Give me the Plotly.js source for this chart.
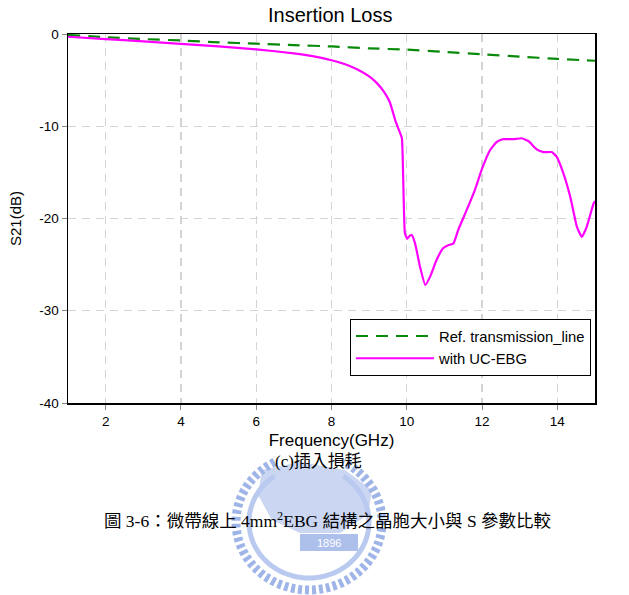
<!DOCTYPE html>
<html>
<head>
<meta charset="utf-8">
<script src="https://cdn.plot.ly/plotly-3.0.1.min.js"></script>
<style>html,body{margin:0;padding:0;background:#fff;}#chart{width:629px;height:595px;}</style>
</head>
<body>
<div id="chart"></div>
<script>
// Reference transmission line (green dashed)
const refFreq = [1, 2, 3, 4, 5, 6, 7, 8, 9, 10, 11, 12, 13, 14, 15];
const refS21 = [-0.1, -0.35, -0.55, -0.7, -0.9, -1.05, -1.2, -1.35, -1.55, -1.7, -1.95, -2.2, -2.45, -2.7, -2.9];

// With UC-EBG (magenta)
const ebgFreq = [1, 2, 3, 4, 5, 6, 7, 7.5, 8, 8.5, 8.8, 9.0, 9.2, 9.4, 9.55, 9.69, 9.8, 9.87, 9.91, 9.95, 10.01, 10.07, 10.13, 10.22, 10.35, 10.49, 10.62, 10.79, 10.97, 11.1, 11.24, 11.37, 11.59, 11.81, 11.99, 12.21, 12.39, 12.56, 12.83, 13.05, 13.23, 13.45, 13.63, 13.85, 13.98, 14.16, 14.34, 14.52, 14.65, 14.78, 14.96, 15];
const ebgS21 = [-0.3, -0.55, -0.8, -1.08, -1.35, -1.66, -2.1, -2.4, -2.85, -3.5, -4.1, -4.6, -5.3, -6.3, -7.4, -9.3, -10.5, -11.3, -16.6, -21.6, -22.2, -21.9, -21.8, -22.7, -25.2, -27.2, -26.3, -24.5, -23.2, -22.9, -22.7, -21.2, -19.1, -16.9, -14.7, -12.6, -11.7, -11.4, -11.4, -11.3, -11.6, -12.5, -12.8, -12.8, -13.3, -15.1, -17.6, -20.9, -22.0, -20.9, -18.4, -18.1];

const xTicks = [2, 4, 6, 8, 10, 12, 14];
const xTickText = ['2', '4', '6', '8', '10', '12', '14'];
const yTicks = [0, -10, -20, -30, -40];
const yTickText = ['0', '-10', '-20', '-30', '-40'];

const traces = [
  {x: refFreq, y: refS21, mode: 'lines', name: 'Ref. transmission_line',
   line: {color: '#0a8a0a', width: 2.2, dash: '12px,8px', shape: 'spline', smoothing: 0.5}},
  {x: ebgFreq, y: ebgS21, mode: 'lines', name: 'with UC-EBG',
   line: {color: '#ff00ff', width: 2.2, shape: 'spline', smoothing: 0.4}}
];

const F = 'Arial, Liberation Sans, sans-serif';
const axisFont = {family: F, size: 13.5, color: '#000'};
const W = 527, H = 369, L = 68, B = 403;
function px(x) { return (x - L) / W; }
function py(y) { return (B - y) / H; }

// decorative watermark seal (page background, not data)
function arcPath(cx, cy, rx, ry, a0, a1, n) {
  let d = '';
  for (let i = 0; i <= n; i++) {
    const a = (a0 + (a1 - a0) * i / n) * Math.PI / 180;
    const x = px(cx + rx * Math.cos(a));
    const y = py(cy - ry * Math.sin(a));
    d += (i === 0 ? 'M' : 'L') + x.toFixed(5) + ',' + y.toFixed(5);
  }
  return d;
}
function polyPath(pts) {
  return pts.map((p, i) => (i === 0 ? 'M' : 'L') + px(p[0]).toFixed(5) + ',' + py(p[1]).toFixed(5)).join('') + 'Z';
}

const layout = {
  width: 629, height: 595,
  margin: {l: 68, r: 34, t: 34, b: 192},
  paper_bgcolor: '#fff', plot_bgcolor: 'rgba(0,0,0,0)',
  font: axisFont,
  title: {text: 'Insertion Loss', font: {family: F, size: 20, color: '#000'},
          x: 0.525, xanchor: 'center', y: 0.974, yanchor: 'middle', yref: 'container'},
  xaxis: {range: [1, 15], tickvals: xTicks, ticktext: xTickText, ticks: 'outside', ticklen: 5, tickcolor: '#888',
          showline: true, linecolor: '#000', linewidth: 1.5, mirror: true,
          showgrid: true, gridcolor: '#d4d4d4', gridwidth: 1.3, griddash: '8px,6px',
          zeroline: false, tickfont: axisFont,
          title: {text: 'Frequency(GHz)', font: {family: F, size: 17, color: '#000'}, standoff: 6}},
  yaxis: {range: [-40, 0], tickvals: yTicks, ticktext: yTickText, ticks: 'outside', ticklen: 5, tickcolor: '#888',
          showline: true, linecolor: '#000', linewidth: 1.5, mirror: true,
          showgrid: true, gridcolor: '#d4d4d4', gridwidth: 1.3, griddash: '8px,6px',
          zeroline: false, tickfont: axisFont,
          title: {text: 'S21(dB)', font: {family: F, size: 15, color: '#000'}, standoff: 14}},
  legend: {x: 0.535, xanchor: 'left', y: 0.228, yanchor: 'top',
           bordercolor: '#000', borderwidth: 1, bgcolor: '#fff',
           font: {family: F, size: 14.8, color: '#000'},
           itemwidth: 78, tracegroupgap: 0},
  showlegend: true,
  shapes: [
    {type: 'path', xref: 'paper', yref: 'paper', layer: 'below',
     path: polyPath([[262, 470], [300, 462], [345, 470], [372, 490], [368, 515], [340, 533], [300, 533], [272, 520], [258, 495]]),
     line: {width: 0}, fillcolor: 'rgba(160,182,232,0.55)'},
    {type: 'path', xref: 'paper', yref: 'paper', layer: 'below',
     path: arcPath(309, 522, 73, 68, 118, 422, 80),
     line: {color: '#9fb5e8', width: 9, dash: '4px,3px'}},
    {type: 'path', xref: 'paper', yref: 'paper', layer: 'below',
     path: arcPath(309, 522, 60, 56, 125, 415, 80),
     line: {color: '#b9c9ef', width: 5}},
    {type: 'rect', xref: 'paper', yref: 'paper', layer: 'below',
     x0: px(300), x1: px(358), y0: py(551), y1: py(534),
     line: {width: 0}, fillcolor: '#adc0ec'}
  ],
  annotations: [
    {text: '(c)插入損耗', xref: 'paper', yref: 'paper', x: 0.475, y: py(461),
     xanchor: 'center', yanchor: 'middle', showarrow: false,
     font: {family: 'Liberation Serif, Noto Sans CJK TC, serif', size: 17, color: '#000'}},
    {text: '圖 3-6：微帶線上 4mm<sup>2</sup>EBG 結構之晶胞大小與 S 參數比較', xref: 'paper', yref: 'paper', x: px(328), y: py(520),
     xanchor: 'center', yanchor: 'middle', showarrow: false,
     font: {family: 'Liberation Serif, Noto Sans CJK TC, serif', size: 17.5, color: '#000'}},
    {text: '1896', xref: 'paper', yref: 'paper', x: px(329), y: py(542.5),
     xanchor: 'center', yanchor: 'middle', showarrow: false,
     font: {family: F, size: 11, color: '#ffffff'}}
  ]
};

Plotly.newPlot('chart', traces, layout, {displayModeBar: false, staticPlot: true});
</script>
</body>
</html>
